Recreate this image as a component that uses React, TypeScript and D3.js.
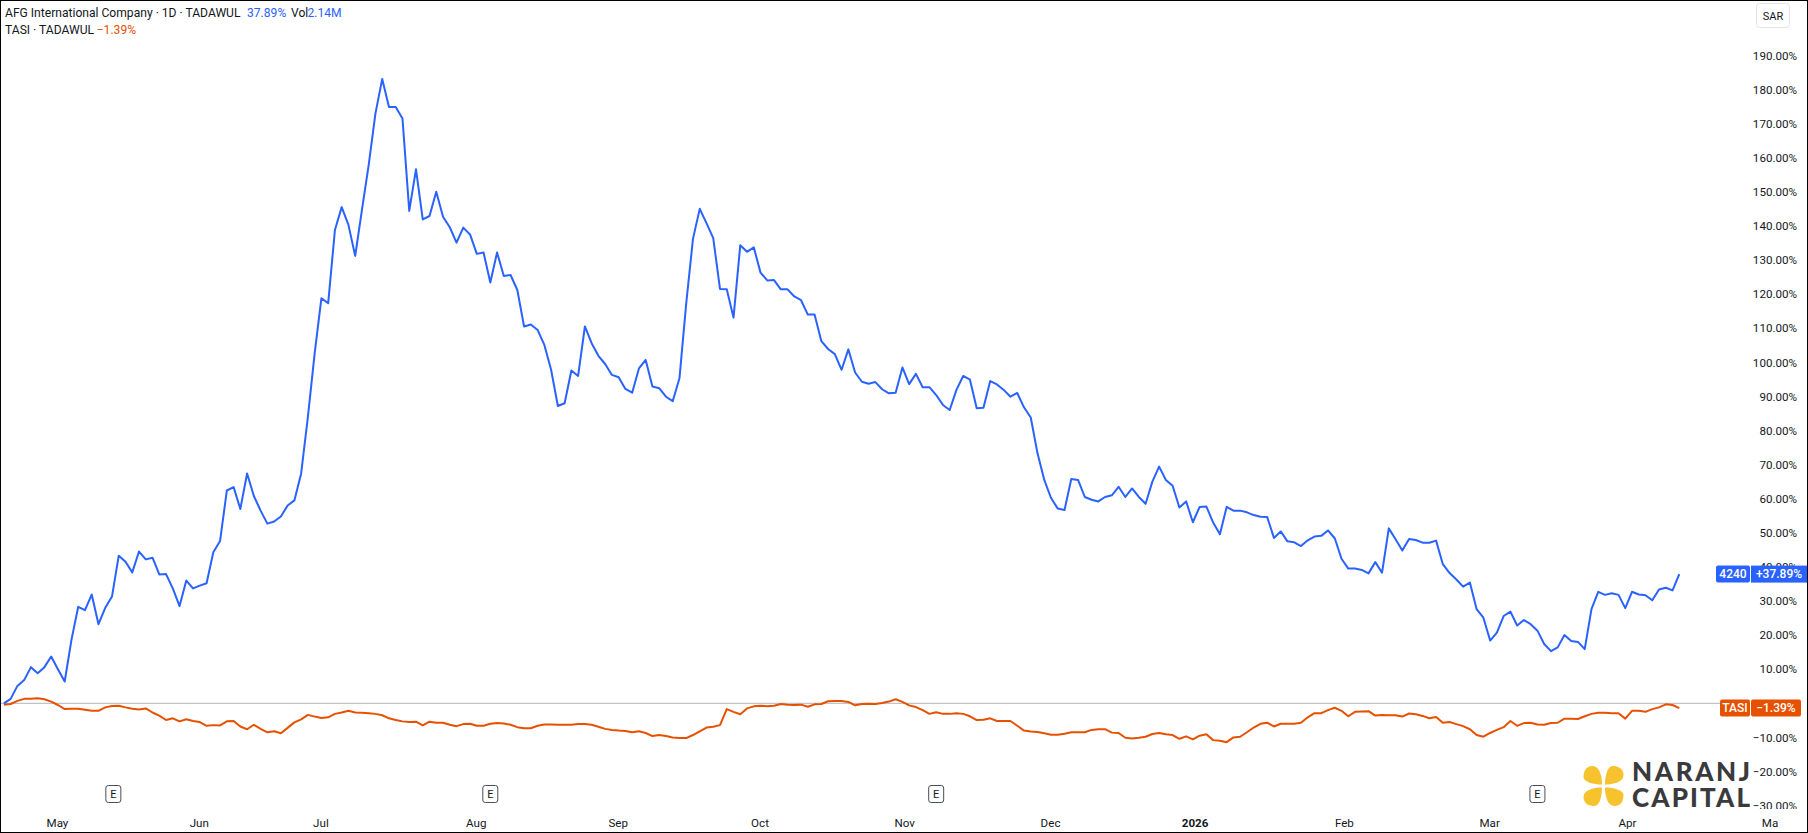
// @ts-nocheck
import React from "react";
import * as d3 from "d3";

// percent change from the first bar, one value per trading day
const afgValues = [
  0, 1.3, 5.1, 6.8, 10.6, 8.8, 10.6, 13.7, 10.0, 6.4,
  18.6, 28.3, 27.3, 31.9, 23.2, 28.0, 31.3, 43.3, 41.5, 38.4,
  44.5, 42.2, 42.7, 37.8, 37.9, 33.7, 28.5, 36.0, 33.7, 34.5,
  35.2, 44.3, 47.6, 62.4, 63.4, 57.0, 67.4, 60.8, 56.5, 52.7,
  53.3, 54.8, 58.0, 59.5, 67.4, 84.0, 102.6, 118.8, 117.3, 138.8,
  145.5, 140.3, 131.2, 144.7, 157.9, 173.0, 183.1, 174.9, 174.9, 171.5,
  144.4, 156.6, 141.9, 142.9, 150.0, 142.7, 139.6, 135.1, 139.5, 137.5,
  131.8, 132.2, 123.4, 132.2, 125.3, 125.6, 121.2, 110.5, 111.1, 109.5,
  105.1, 97.8, 87.2, 88.0, 97.6, 96.0, 110.5, 105.6, 101.9, 99.5,
  96.3, 95.6, 92.2, 91.1, 98.2, 100.7, 92.9, 92.4, 89.9, 88.6,
  95.3, 117.3, 136.2, 145.0, 140.8, 136.4, 121.5, 121.4, 113.1, 134.3,
  132.4, 133.7, 126.3, 124.0, 124.1, 121.4, 121.4, 119.3, 118.2, 114.0,
  114.0, 106.2, 103.9, 102.4, 97.8, 103.8, 97.0, 94.3, 93.7, 94.2,
  92.1, 90.9, 91.1, 98.5, 93.6, 96.6, 92.7, 92.7, 90.4, 87.5,
  86.0, 91.9, 96.0, 94.9, 86.5, 86.7, 94.5, 93.5, 91.9, 89.9,
  91.0, 86.8, 83.8, 73.3, 65.5, 60.2, 57.1, 56.7, 65.8, 65.5,
  60.5, 59.7, 59.2, 60.5, 61.0, 63.5, 60.5, 63.0, 60.5, 58.5,
  65.0, 69.4, 65.5, 63.8, 57.4, 59.2, 53.1, 57.6, 57.7, 53.0,
  49.6, 57.6, 56.5, 56.5, 56.0, 55.2, 54.7, 54.6, 48.5, 50.4,
  47.5, 47.2, 46.1, 47.8, 48.9, 49.1, 50.7, 48.4, 42.4, 39.5,
  39.5, 39.1, 38.1, 41.4, 38.3, 51.3, 48.1, 44.8, 48.2, 47.9,
  47.1, 47.1, 47.7, 40.8, 38.2, 36.3, 34.2, 35.4, 27.6, 25.1,
  18.4, 20.7, 25.6, 26.9, 22.8, 24.4, 23.2, 21.3, 17.4, 15.3,
  16.4, 20.0, 18.3, 18.0, 15.9, 27.6, 32.7, 31.8, 32.3, 31.8,
  27.9, 32.7, 31.9, 31.7, 30.2, 33.4, 33.9, 33.1, 37.89,
];

const tasiValues = [
  -0.4, -0.2, 0.7, 1.3, 1.3, 1.5, 1.2, 0.5, -0.5, -1.7,
  -1.6, -1.6, -1.9, -2.2, -2.2, -1.2, -0.8, -0.7, -1.2, -1.6,
  -1.8, -1.5, -2.7, -3.6, -4.9, -4.4, -5.3, -4.7, -5.2, -5.5,
  -6.6, -6.4, -6.5, -5.3, -5.2, -6.8, -7.6, -6.3, -7.5, -8.5,
  -8.2, -8.8, -7.2, -5.6, -4.7, -3.4, -3.9, -4.3, -4.1, -3.1,
  -2.7, -2.2, -2.7, -2.8, -2.9, -3.1, -3.5, -4.4, -4.9, -5.3,
  -5.5, -5.4, -6.5, -5.4, -5.7, -5.7, -6.3, -6.7, -6.1, -6.0,
  -6.6, -6.6, -6.0, -5.8, -5.9, -6.3, -7.0, -7.3, -7.3, -6.6,
  -6.2, -6.2, -6.3, -6.3, -6.3, -6.1, -6.1, -6.3, -6.9, -7.5,
  -7.8, -8.0, -8.1, -8.5, -8.2, -8.7, -9.6, -9.3, -9.6, -10.0,
  -10.2, -10.2, -9.3, -8.2, -7.1, -6.9, -6.4, -1.7, -2.5, -3.2,
  -1.5, -0.9, -0.7, -0.9, -0.7, -0.2, -0.4, -0.5, -0.4, -1.0,
  -0.3, -0.2, 0.6, 0.7, 0.7, 0.4, -0.6, -0.2, -0.1, -0.2,
  0.1, 0.5, 1.2, 0.4, -0.6, -1.1, -2.0, -3.1, -2.6, -3.1,
  -3.1, -2.9, -3.1, -3.8, -4.9, -4.8, -4.4, -5.2, -5.2, -5.2,
  -6.6, -8.0, -8.3, -8.4, -8.8, -9.2, -9.2, -8.9, -8.5, -8.5,
  -8.5, -7.8, -7.6, -7.6, -8.6, -8.7, -10.1, -10.3, -10.1, -9.8,
  -9.0, -8.7, -9.1, -9.3, -10.4, -9.7, -10.6, -9.5, -9.1, -10.8,
  -11.0, -11.4, -10.0, -9.8, -8.5, -7.1, -6.0, -5.7, -6.8, -6.0,
  -6.0, -6.0, -5.7, -4.1, -2.9, -2.9, -2.0, -1.3, -2.2, -3.8,
  -2.5, -2.4, -2.3, -3.6, -3.4, -3.5, -3.5, -3.9, -3.0, -3.2,
  -3.7, -4.4, -4.0, -5.7, -5.5, -6.1, -6.7, -7.6, -9.3, -9.8,
  -8.7, -7.8, -7.0, -5.2, -6.6, -5.8, -5.7, -6.2, -6.3, -5.8,
  -5.7, -4.5, -4.5, -4.6, -3.8, -3.1, -2.8, -2.8, -2.9, -2.9,
  -4.5, -2.2, -2.2, -2.5, -1.7, -1.2, -0.3, -0.5, -1.39,
];

const yTicks = [190, 180, 170, 160, 150, 140, 130, 120, 110, 100, 90, 80, 70, 60, 50, 40, 30, 20, 10, 0, -10, -20, -30];
const monthTicks = [8, 29, 47, 70, 91, 112, 133.4, 155, 176.4, 198.5, 220, 240.4, 261.5];
const monthLabels = ["May", "Jun", "Jul", "Aug", "Sep", "Oct", "Nov", "Dec", "2026", "Feb", "Mar", "Apr", "Ma"];
const earningsDays = [16.2, 72, 138, 227];

const BLUE = "#2962ff";
const ORANGE = "#e65100";
const TEXT = "#131722";
const FONT = "Roboto, sans-serif";

const App = () => {
  const svgRef = React.useRef(null);
  const width = 1808;
  const height = 833;

  React.useEffect(() => {
    const xScale = d3.scaleLinear().domain([0, 248]).range([3.9, 1679.3]);
    const yScale = d3.scaleLinear().domain([0, 190]).range([703.3, 55.4]);

    const svg = d3.select(svgRef.current);
    svg.selectAll("*").remove();
    svg.attr("font-family", FONT);

    svg.append("rect").attr("width", width).attr("height", height).attr("fill", "#fff");

    const defs = svg.append("defs");
    defs.append("clipPath").attr("id", "pane").append("rect")
      .attr("x", 0).attr("y", 0).attr("width", 1808).attr("height", 809);
    defs.append("clipPath").attr("id", "timeaxis").append("rect")
      .attr("x", 0).attr("y", 809).attr("width", 1782).attr("height", 24);

    // price axis labels
    const yAxis = d3.axisLeft(yScale).tickValues(yTicks).tickSize(0).tickPadding(0)
      .tickFormat((d) => `${d < 0 ? "\u2212" : ""}${Math.abs(d).toFixed(2)}%`);
    const yGroup = svg.append("g")
      .attr("clip-path", "url(#pane)")
      .append("g")
      .attr("transform", "translate(1797,0)")
      .call(yAxis);
    yGroup.select(".domain").remove();
    yGroup.selectAll("text")
      .attr("font-family", FONT)
      .attr("font-size", 11.6)
      .attr("fill", TEXT);

    // time axis labels
    const xAxis = d3.axisBottom(xScale).tickValues(monthTicks).tickSize(0).tickPadding(0)
      .tickFormat((d, i) => monthLabels[i]);
    const xGroup = svg.append("g")
      .attr("clip-path", "url(#timeaxis)")
      .append("g")
      .attr("transform", "translate(-1,819)")
      .call(xAxis);
    xGroup.select(".domain").remove();
    xGroup.selectAll("text")
      .attr("font-family", FONT)
      .attr("font-size", 11.6)
      .attr("font-weight", (d, i) => (monthLabels[i] === "2026" ? 700 : 400))
      .attr("fill", TEXT);

    // baseline
    svg.append("line")
      .attr("x1", 1).attr("x2", 1745)
      .attr("y1", yScale(0)).attr("y2", yScale(0))
      .attr("stroke", "#b2b5be").attr("stroke-width", 1);

    const line = d3.line()
      .x((d, i) => xScale(i))
      .y((d) => yScale(d));

    svg.append("path")
      .attr("d", line(tasiValues))
      .attr("fill", "none").attr("stroke", ORANGE).attr("stroke-width", 2).attr("stroke-linejoin", "round");
    svg.append("path")
      .attr("d", line(afgValues))
      .attr("fill", "none").attr("stroke", BLUE).attr("stroke-width", 2).attr("stroke-linejoin", "round");

    // earnings markers
    const marks = svg.append("g").selectAll("g").data(earningsDays).enter().append("g")
      .attr("transform", (d) => `translate(${xScale(d)},794)`);
    marks.append("rect")
      .attr("x", -7.5).attr("y", -8.5).attr("width", 15).attr("height", 17).attr("rx", 2.5)
      .attr("fill", "#fff").attr("stroke", "#4a4e5a").attr("stroke-width", 1);
    marks.append("text")
      .attr("text-anchor", "middle").attr("y", 4).attr("font-size", 11).attr("fill", TEXT)
      .text("E");

    // last value badges
    const last = [
      { value: afgValues[afgValues.length - 1], color: BLUE, name: "4240", nameX: 1716, text: "+37.89%", w: 56, r: 0 },
      { value: tasiValues[tasiValues.length - 1], color: ORANGE, name: "TASI", nameX: 1720, text: "\u22121.39%", w: 50, r: 2 },
    ];
    last.forEach((b) => {
      const cy = yScale(b.value);
      svg.append("rect")
        .attr("x", b.nameX).attr("y", cy - 8.5).attr("width", 1750 - b.nameX).attr("height", 17).attr("rx", 2)
        .attr("fill", b.color);
      svg.append("rect")
        .attr("x", 1751).attr("y", cy - 8.5).attr("width", b.w).attr("height", 17).attr("rx", b.r)
        .attr("fill", b.color);
      svg.append("text")
        .attr("x", (b.nameX + 1750) / 2).attr("y", cy + 4.2).attr("text-anchor", "middle")
        .attr("font-size", 12).attr("font-weight", 500).attr("fill", "#fff").text(b.name);
      svg.append("text")
        .attr("x", 1751 + b.w / 2).attr("y", cy + 4.2).attr("text-anchor", "middle")
        .attr("font-size", 12).attr("font-weight", 500).attr("fill", "#fff").text(b.text);
    });

    // legend
    const legend = (x, y, str, color) => svg.append("text")
      .attr("x", x).attr("y", y).attr("font-size", 12.1).attr("fill", color).text(str);
    legend(5, 17, "AFG International Company \u00b7 1D \u00b7 TADAWUL", TEXT);
    legend(247, 17, "37.89%", BLUE);
    legend(291, 17, "Vol", TEXT);
    legend(307.5, 17, "2.14M", BLUE);
    legend(5, 33.5, "TASI \u00b7 TADAWUL", TEXT);
    legend(96.7, 33.5, "\u22121.39%", ORANGE);

    // currency box
    svg.append("rect")
      .attr("x", 1756.5).attr("y", 3.5).attr("width", 33).attr("height", 24).attr("rx", 3)
      .attr("fill", "#fff").attr("stroke", "#e0e3eb");
    svg.append("text")
      .attr("x", 1773).attr("y", 19.5).attr("text-anchor", "middle").attr("font-size", 11).attr("fill", TEXT)
      .text("SAR");

    // watermark
    const logo = svg.append("g").attr("transform", "translate(1603.5,786)");
    const petal = "M-1.5,-1.5 C-1.5,-10 -4,-20 -11,-20 C-18,-20 -20,-14 -20,-9 C-20,-4 -10,-1.5 -1.5,-1.5 Z";
    [0, 90, 180, 270].forEach((a) => {
      logo.append("path").attr("d", petal).attr("transform", `rotate(${a})`).attr("fill", "#f6c22d");
    });
    svg.append("text")
      .attr("x", 1632).attr("y", 781).attr("font-family", "Lato, sans-serif").attr("font-weight", 900)
      .attr("font-size", 26).attr("fill", "#3a3a3c").attr("textLength", 118).attr("lengthAdjust", "spacing")
      .text("NARANJ");
    svg.append("text")
      .attr("x", 1632).attr("y", 807).attr("font-family", "Lato, sans-serif").attr("font-weight", 900)
      .attr("font-size", 26).attr("fill", "#3a3a3c").attr("textLength", 118).attr("lengthAdjust", "spacing")
      .text("CAPITAL");

    // frame
    svg.append("rect")
      .attr("x", 0.5).attr("y", 0.5).attr("width", 1807).attr("height", 832)
      .attr("fill", "none").attr("stroke", "#000").attr("stroke-width", 1);
  }, []);

  return (
    <div style={{ position: "absolute", left: 0, top: 0 }}>
      <svg ref={svgRef} width={width} height={height} style={{ display: "block" }} />
    </div>
  );
};

export default App;
